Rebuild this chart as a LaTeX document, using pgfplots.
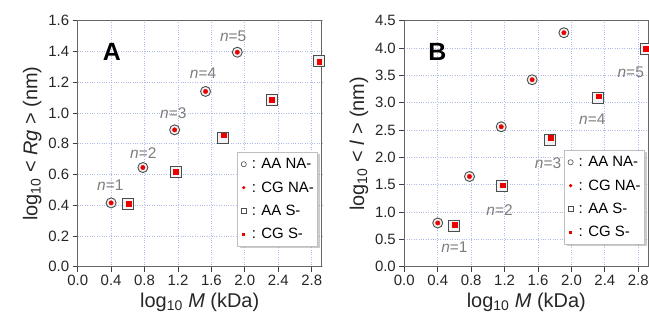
\documentclass[border=0pt]{standalone}
\usepackage{pgfplots}
\pgfplotsset{compat=1.18}
\usepackage{fontspec}
\setmainfont{Liberation Sans}
\usetikzlibrary{shadows}
\makeatletter
\tikzset{nopre/.code={\let\tikz@preactions\pgfutil@empty}}
\makeatother
\definecolor{myred}{RGB}{235,0,0}
\definecolor{gridc}{RGB}{175,188,235}
\definecolor{ngray}{RGB}{125,125,125}
\tikzset{nlab/.style={text=ngray, font=\fontsize{15.5}{18}\selectfont}}
\pgfplotsset{
  common/.style={
    scale only axis, width=244bp, height=246bp,
    xmin=0, xmax=2.92,
    xtick={0,0.4,0.8,1.2,1.6,2.0,2.4,2.8},
    xticklabel style={/pgf/number format/.cd, fixed, fixed zerofill, precision=1},
    yticklabel style={/pgf/number format/.cd, fixed, fixed zerofill, precision=1},
    /pgf/number format/assume math mode=true,
    tick label style={font=\fontsize{15}{18}\selectfont, text=black!85},
    grid=major, grid style={dotted, color=gridc, line width=0.8bp},
    axis line style={draw=black!60, line width=1.2bp},
    tick style={draw=black!75, line width=0.8bp},
    tick align=outside, xtick pos=left, ytick pos=left,
    major tick length=5bp,
    label style={font=\fontsize{20}{24}\selectfont, text=black!85},
    xlabel={log\textsubscript{10} \textit{M} (kDa)},
    legend style={draw=black!25, fill=white, line width=0.6bp,
      drop shadow={shadow xshift=2bp, shadow yshift=-2bp, opacity=0.4},
      font=\fontsize{15}{18}\selectfont, row sep=7.5bp, inner xsep=2bp, inner ysep=4bp,
      nodes={nopre, fill=none, draw=none},
      cells={anchor=west}},
    legend cell align=left,
  },
  aana/.style={only marks, mark=*, mark size=5bp, mark options={draw=black!70, fill=black!5, line width=0.9bp}},
  cgna/.style={only marks, mark=*, mark size=2.2bp, mark options={draw=myred, fill=myred}},
  aas/.style={only marks, mark=square*, mark size=5.5bp, mark options={draw=black!70, fill=black!5, line width=0.9bp}},
  cgs/.style={only marks, mark=square*, mark size=2.4bp, mark options={draw=myred, fill=myred}},
}
\newcommand{\bbox}{\path[nopre, draw=none,fill=none] (0,-3bp) rectangle (10bp,3bp);}
\newcommand{\mylegend}{%
\addlegendimage{draw=none, legend image code/.code={\bbox \draw[nopre, draw=black!70, fill=white, line width=0.6bp] (4bp,0) circle (2.6bp);}}
\addlegendentry{: AA NA-}
\addlegendimage{draw=none, legend image code/.code={\bbox \fill[nopre, myred] (4bp,0) circle (1.8bp);}}
\addlegendentry{: CG NA-}
\addlegendimage{draw=none, legend image code/.code={\bbox \draw[nopre, draw=black!70, fill=white, line width=0.6bp] (1.4bp,-2.6bp) rectangle (6.6bp,2.6bp);}}
\addlegendentry{: AA S-}
\addlegendimage{draw=none, legend image code/.code={\bbox \fill[nopre, myred] (2.3bp,-1.7bp) rectangle (5.7bp,1.7bp);}}
\addlegendentry{: CG S-}}
\begin{document}
\begin{tikzpicture}
\useasboundingbox (0,0) rectangle (649bp,322bp);
% ---------------- Panel A
\begin{axis}[common, at={(77.7bp,55.3bp)}, anchor=south west,
  ymin=0, ymax=1.6, ytick={0,0.2,0.4,0.6,0.8,1.0,1.2,1.4,1.6},
  ylabel={log\textsubscript{10} < \textit{Rg} > (nm)},
  legend style={at={(0.985,0.466)}, anchor=north east}]
\addplot[aana, forget plot] coordinates {(0.40,0.415) (0.78,0.645) (1.16,0.89) (1.53,1.14) (1.91,1.395)};
\addplot[cgna, forget plot] coordinates {(0.40,0.415) (0.78,0.645) (1.16,0.89) (1.53,1.14) (1.91,1.395)};
\addplot[aas, forget plot] coordinates {(0.60,0.405) (1.17,0.615) (1.74,0.84) (2.32,1.085) (2.89,1.335)};
\addplot[cgs, forget plot] coordinates {(0.61,0.41) (1.17,0.62) (1.75,0.855) (2.32,1.085) (2.89,1.335)};
\mylegend
\node[nlab] at (axis cs:0.39,0.53) {\textit{n}=1};
\node[nlab] at (axis cs:0.785,0.737) {\textit{n}=2};
\node[nlab] at (axis cs:1.144,0.998) {\textit{n}=3};
\node[nlab] at (axis cs:1.50,1.258) {\textit{n}=4};
\node[nlab] at (axis cs:1.86,1.496) {\textit{n}=5};
\node[font=\fontsize{25}{30}\selectfont\bfseries] at (rel axis cs:0.14,0.873) {A};
\end{axis}
% ---------------- Panel B
\begin{axis}[common, at={(404.3bp,55.3bp)}, anchor=south west,
  ymin=0, ymax=4.5, ytick={0,0.5,1.0,1.5,2.0,2.5,3.0,3.5,4.0,4.5},
  ylabel={log\textsubscript{10} < \textit{l} > (nm)},
  legend style={at={(0.986,0.474)}, anchor=north east}]
\addplot[aana, forget plot] coordinates {(0.40,0.80) (0.78,1.65) (1.16,2.56) (1.53,3.42) (1.91,4.28)};
\addplot[cgna, forget plot] coordinates {(0.40,0.80) (0.78,1.65) (1.16,2.56) (1.53,3.42) (1.91,4.28)};
\addplot[aas, forget plot] coordinates {(0.60,0.75) (1.17,1.47) (1.74,2.32) (2.32,3.08) (2.89,3.99)};
\addplot[cgs, forget plot] coordinates {(0.60,0.77) (1.18,1.49) (1.75,2.36) (2.33,3.12) (2.89,3.99)};
\mylegend
\node[nlab] at (axis cs:0.60,0.366) {\textit{n}=1};
\node[nlab] at (axis cs:1.14,1.04) {\textit{n}=2};
\node[nlab] at (axis cs:1.72,1.90) {\textit{n}=3};
\node[nlab] at (axis cs:2.25,2.70) {\textit{n}=4};
\node[nlab] at (axis cs:2.71,3.55) {\textit{n}=5};
\node[font=\fontsize{25}{30}\selectfont\bfseries] at (rel axis cs:0.136,0.873) {B};
\end{axis}
\end{tikzpicture}
\end{document}
